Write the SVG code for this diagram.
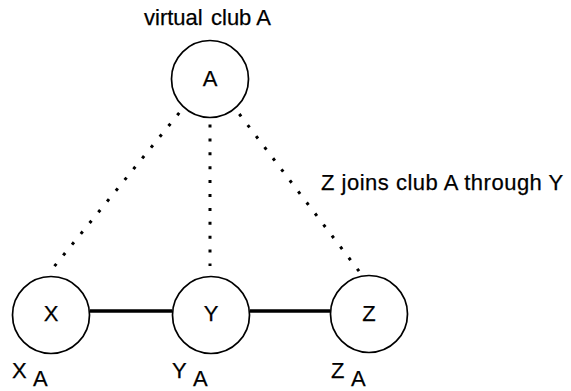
<svg xmlns="http://www.w3.org/2000/svg" width="571" height="391" viewBox="0 0 571 391">
  <style>
    text { font-family: "Liberation Sans", Arial, Helvetica, sans-serif; fill: #000; font-size: 22px; stroke: #000; stroke-width: 0.25px; }
    .wide { letter-spacing: 0.5px; }
    .node circle { fill: #fff; stroke: #000; stroke-width: 1.7; }
    .node text { text-anchor: middle; }
    .dot { fill: none; stroke: #000; stroke-width: 3; stroke-dasharray: 3 10.9; }
    .link { fill: none; stroke: #000; stroke-width: 3.5; }
  </style>

  <rect width="571" height="391" fill="#fff"/>

  <!-- connectors: dotted membership lines and solid neighbour links -->
  <g id="connectors">
    <path class="dot" d="M179.2,112.9 L53,268"/>
    <path class="dot" d="M210,124.5 L210,266"/>
    <path class="dot" d="M239.3,114 L360,272.5"/>
    <path class="link" d="M90,311 L172,311"/>
    <path class="link" d="M250,311 L330,311"/>
  </g>

  <g id="node-A" class="node">
    <circle cx="210" cy="79" r="38.5"/>
    <text x="210" y="86">A</text>
  </g>
  <g id="node-X" class="node">
    <circle cx="51" cy="315" r="38.5"/>
    <text x="51" y="321">X</text>
  </g>
  <g id="node-Y" class="node">
    <circle cx="211" cy="315" r="38.5"/>
    <text x="211" y="321">Y</text>
  </g>
  <g id="node-Z" class="node">
    <circle cx="369" cy="314" r="38.5"/>
    <text x="369" y="321">Z</text>
  </g>

  <!-- captions -->
  <text x="144" y="25">virtual</text>
  <text x="211" y="25">club A</text>
  <text class="wide" x="321" y="190">Z joins club A through Y</text>

  <!-- per-node club labels with subscript -->
  <text x="12" y="378">X</text>
  <text x="33" y="386">A</text>
  <text x="172" y="378">Y</text>
  <text x="193" y="386">A</text>
  <text x="331" y="378">Z</text>
  <text x="351" y="386">A</text>
</svg>
